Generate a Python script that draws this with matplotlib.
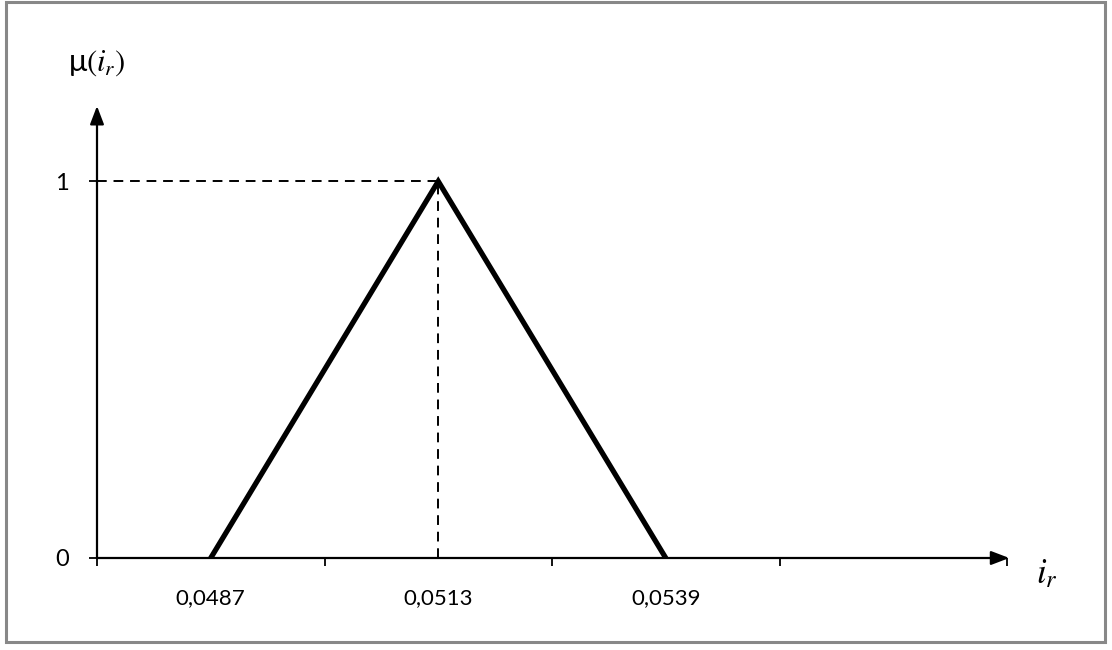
import matplotlib.pyplot as plt
from matplotlib.patches import Rectangle

# data
categories = ['0,0487', '0,0513', '0,0539', '']
mu_values = [0, 1, 0]
peak = 1

plt.rcParams['font.family'] = ['Lato', 'DejaVu Sans']
plt.rcParams['mathtext.fontset'] = 'stix'

fig = plt.figure(figsize=(11.12, 6.5), dpi=100)
ax = fig.add_axes([97 / 1112, (650 - 558) / 650, (1007 - 97) / 1112, (558 - 106) / 650])

n = len(categories)
centers = [i + 0.5 for i in range(n)]

# triangle
ax.plot(centers[:len(mu_values)], mu_values, color='black', lw=3.8,
        solid_capstyle='round', solid_joinstyle='miter', zorder=3)

# dashed guides to the peak
ax.plot([0, centers[1]], [peak, peak], color='black', lw=1.4, ls=(0, (5, 3.5)))
ax.plot([centers[1], centers[1]], [0, peak], color='black', lw=1.4, ls=(0, (5, 3.5)))

ax.set_xlim(0, n)
ax.set_ylim(0, 1.2)

for s in ['top', 'right', 'left', 'bottom']:
    ax.spines[s].set_visible(False)

# axes with arrows
arrow = dict(arrowstyle='-|>,head_length=1.1,head_width=0.42',
             color='black', lw=1.6, shrinkA=0, shrinkB=0)
ax.annotate('', xy=(n + 0.01, 0), xytext=(0, 0), arrowprops=arrow,
            annotation_clip=False)
ax.annotate('', xy=(0, 1.2), xytext=(0, 0), arrowprops=arrow,
            annotation_clip=False)

ax.set_xticks(range(n + 1))
ax.set_xticklabels([])
ax.set_xticks(centers, minor=True)
ax.set_xticklabels(categories, minor=True, fontsize=16)
ax.tick_params(axis='x', which='major', direction='out', length=6, width=1.3)
ax.tick_params(axis='x', which='minor', length=0, pad=22)

ax.set_yticks([0, 1])
ax.set_yticklabels(['0', '1'], fontsize=17)
ax.tick_params(axis='y', direction='out', length=6, width=1.3, pad=14)

fig.text(97 / 1112, 1 - 63 / 650, r'μ$(i_r)$', fontsize=22, ha='center', va='center')
fig.text(1047 / 1112, 1 - 574 / 650, r'$i_r$', fontsize=25, ha='center', va='center')

fig.patches.append(Rectangle((6 / 1112, 8 / 650), 1099 / 1112, 640 / 650,
                             transform=fig.transFigure, fill=False,
                             edgecolor='#888888', lw=2.2))

fig.savefig('out.png', dpi=100)
